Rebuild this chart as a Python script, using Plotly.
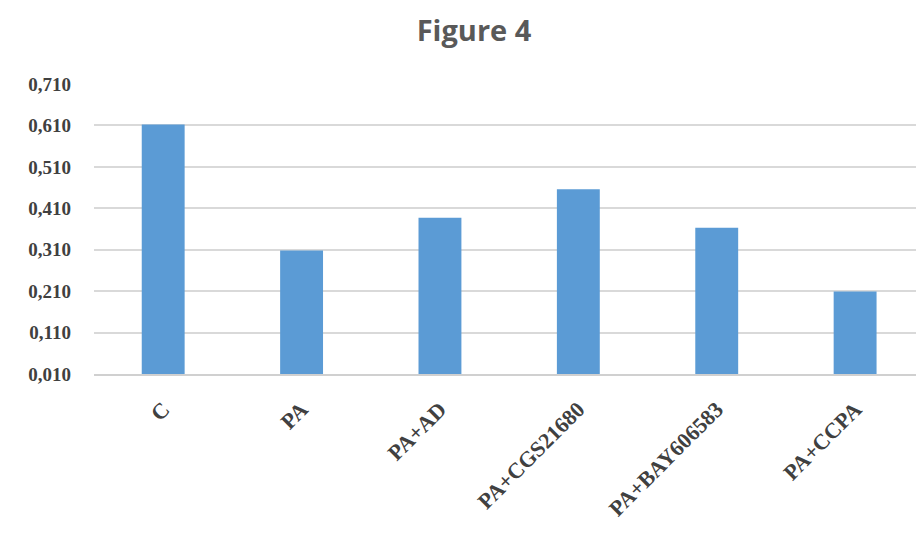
import plotly.graph_objects as go

categories = ["C", "PA", "PA+AD", "PA+CGS21680", "PA+BAY606583", "PA+CCPA"]
values = [0.612, 0.308, 0.387, 0.456, 0.363, 0.209]
tick_vals = [0.01, 0.11, 0.21, 0.31, 0.41, 0.51, 0.61, 0.71]
tick_text = ["0,010", "0,110", "0,210", "0,310", "0,410", "0,510", "0,610", "0,710"]
baseline = 0.01

# bars rise from the 0,010 baseline up to each value
fig = go.Figure(
    go.Bar(
        x=list(range(len(categories))),
        y=[v - baseline for v in values],
        base=baseline,
        width=0.31,
        marker=dict(color="#5B9BD5", line=dict(width=0)),
        hovertext=[f"{v:.3f}" for v in values],
    )
)

fig.update_layout(
    width=916,
    height=538,
    margin=dict(l=94, r=0, t=84, b=164),
    paper_bgcolor="white",
    plot_bgcolor="white",
    showlegend=False,
    title=dict(
        text="<b>Figure 4</b>",
        x=474 / 916,
        xref="container",
        xanchor="center",
        y=1 - 31 / 538,
        yref="container",
        yanchor="middle",
        font=dict(family="Open Sans", size=29, color="#595959"),
    ),
)

fig.update_xaxes(
    tickmode="array",
    tickvals=list(range(len(categories))),
    ticktext=[f"<b>{c}</b>" for c in categories],
    tickangle=-45,
    range=[-0.5, 5.44],
    showgrid=False,
    showline=True,
    linecolor="#D0D0D0",
    linewidth=1.5,
    ticks="",
    ticklabelstandoff=12,
    tickfont=dict(family="Liberation Serif", size=22, color="#404040"),
)

fig.update_yaxes(
    range=[0.01, 0.71],
    tickmode="array",
    tickvals=tick_vals,
    ticktext=[f"<b>{t}</b>" for t in tick_text],
    showgrid=True,
    gridcolor="#D9D9D9",
    gridwidth=1.5,
    zeroline=False,
    showline=False,
    ticks="",
    ticklabelstandoff=22,
    tickfont=dict(family="Liberation Serif", size=19, color="#404040"),
)

fig.write_html("out.html")
